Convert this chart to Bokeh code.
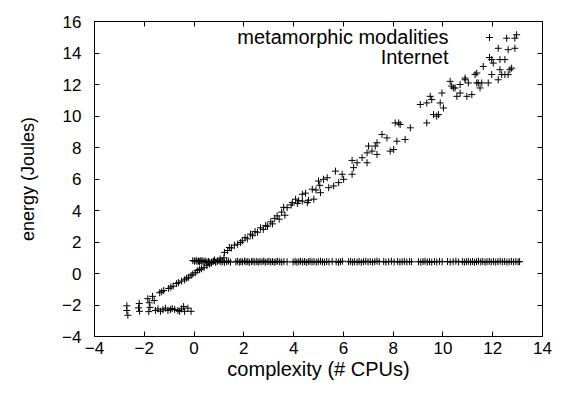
from bokeh.plotting import figure
from bokeh.models import Range1d, FixedTicker, LinearAxis, Label, Legend, LegendItem
from bokeh.embed import file_html
from bokeh.resources import INLINE

# ---- data ----
x_ticks = [-4, -2, 0, 2, 4, 6, 8, 10, 12, 14]
y_ticks = [-4, -2, 0, 2, 4, 6, 8, 10, 12, 14, 16]
series_names = ["metamorphic modalities", "Internet"]
x_title = "complexity (# CPUs)"
y_title = "energy (Joules)"

modalities_pts = [
    (-2.70, -2.05), (-2.70, -2.35), (-2.66, -2.65), (-2.20, -1.90), (-2.23, -2.18), (-2.19, -2.40),
    (-1.86, -1.60), (-1.80, -1.86), (-1.77, -2.15), (-1.82, -2.42), (-1.67, -1.45), (-1.60, -1.72),
    (-1.38, -1.22), (-1.30, -1.16), (-1.22, -1.08), (-1.02, -0.95), (-0.93, -0.86), (-0.84, -0.80),
    (-0.70, -0.64), (-0.62, -0.58), (-0.50, -0.48), (-0.38, -0.40), (-0.30, -0.30), (-0.22, -0.24),
    (-0.12, -0.12), (-0.05, -0.04), (0.05, 0.05), (0.13, 0.18), (0.22, 0.25), (0.30, 0.30),
    (0.40, 0.38), (0.52, 0.50), (0.62, 0.60), (0.70, 0.66), (0.82, 0.86), (0.95, 0.82),
    (1.05, 0.92), (1.20, 1.00), (1.22, 1.34), (1.35, 1.46), (1.42, 1.65), (1.50, 1.62),
    (1.62, 1.80), (1.75, 1.86), (1.87, 1.97), (1.94, 2.08), (2.05, 2.28), (2.14, 2.20),
    (2.27, 2.50), (2.35, 2.40), (2.45, 2.66), (2.55, 2.62), (2.67, 2.90), (2.78, 2.80),
    (2.88, 3.05), (2.95, 3.00), (3.08, 3.28), (3.15, 3.15), (3.24, 3.50), (3.34, 3.66),
    (3.42, 3.45), (3.52, 3.90), (3.60, 4.20), (3.65, 3.70), (3.74, 4.18), (3.90, 4.35),
    (3.95, 4.50), (4.08, 4.72), (4.15, 4.45), (4.20, 4.62), (4.35, 4.60), (4.55, 4.50),
    (4.35, 5.03), (4.48, 5.10), (4.60, 4.65), (4.75, 5.35), (4.81, 4.72), (4.90, 5.30),
    (5.05, 5.60), (5.08, 5.13), (5.00, 5.87), (5.20, 5.98), (5.35, 6.08), (5.41, 5.45),
    (5.61, 5.56), (5.81, 5.77), (5.68, 6.50), (5.95, 6.30), (6.01, 5.98), (6.35, 6.30),
    (6.41, 6.72), (6.35, 7.18), (6.55, 7.03), (6.75, 7.35), (6.95, 7.03), (7.01, 8.09),
    (6.95, 7.66), (7.15, 7.77), (7.35, 7.56), (7.28, 8.09), (7.35, 8.30), (7.55, 8.83),
    (7.75, 8.61), (7.88, 7.77), (8.02, 7.87), (8.15, 8.40), (8.48, 8.51), (8.22, 9.56),
    (8.08, 9.56), (8.28, 9.46), (8.69, 9.25), (9.09, 10.73), (9.35, 10.83), (9.49, 11.25),
    (9.55, 11.04), (9.89, 10.83), (9.96, 11.46), (10.02, 10.51), (9.62, 10.09), (9.75, 9.99),
    (9.82, 10.09), (9.35, 9.56), (10.29, 12.20), (10.35, 11.90), (10.49, 11.78), (10.69, 12.00),
    (10.56, 11.25), (10.96, 11.25), (11.16, 11.36), (10.89, 12.41), (11.29, 12.63), (11.36, 12.10),
    (12.56, 14.94), (12.96, 15.16), (12.89, 14.94), (12.22, 14.30), (12.62, 14.21), (12.89, 14.30),
    (11.96, 13.58), (12.02, 13.36), (12.29, 13.58), (12.49, 13.58), (11.62, 13.15), (11.96, 12.63),
    (12.29, 12.94), (12.36, 12.63), (12.49, 12.63), (12.69, 12.94), (12.76, 13.04), (12.62, 12.63),
    (11.36, 12.73), (11.42, 12.10), (11.56, 12.10), (11.82, 12.10), (12.22, 12.30), (11.49, 11.78),
    (11.02, 12.10), (10.42, 11.78), (10.69, 11.46), (10.89, 12.30),
]

internet_pts = [
    (-1.55, -2.35), (-1.45, -2.25), (-1.35, -2.40), (-1.25, -2.30), (-1.15, -2.20), (-1.05, -2.35),
    (-0.95, -2.30), (-0.88, -2.22), (-0.78, -2.28), (-0.65, -2.35), (-0.58, -2.40), (-0.50, -2.25),
    (-0.42, -2.10), (-0.38, -2.40), (-0.25, -2.20), (-0.12, -2.40),
    (-0.05, 0.82), (0.02, 0.78), (0.08, 0.84), (0.12, 0.76), (0.18, 0.80), (0.22, 0.74),
    (0.27, 0.82), (0.31, 0.77), (0.36, 0.80), (0.41, 0.74), (0.47, 0.79), (0.52, 0.72),
    (0.58, 0.76), (0.63, 0.70), (0.71, 0.74), (0.78, 0.78), (0.86, 0.72), (0.93, 0.76),
    (1.01, 0.80), (1.08, 0.73), (1.15, 0.77), (1.22, 0.71), (1.31, 0.75), (1.38, 0.79),
    (1.46, 0.72), (1.68, 0.74), (1.74, 0.78), (1.82, 0.72), (1.88, 0.76), (1.95, 0.74),
    (2.03, 0.79), (2.09, 0.73), (2.16, 0.76), (2.22, 0.71), (2.31, 0.75), (2.37, 0.78),
    (2.44, 0.73), (2.52, 0.76), (2.58, 0.72), (2.65, 0.77), (2.73, 0.74), (2.80, 0.79),
    (2.86, 0.72), (2.94, 0.75), (3.01, 0.77), (3.08, 0.73), (3.15, 0.76), (3.22, 0.71),
    (3.29, 0.75), (3.36, 0.78), (3.44, 0.74), (3.52, 0.72), (3.61, 0.76), (3.74, 0.74),
    (3.98, 0.73), (4.06, 0.77), (4.13, 0.72), (4.21, 0.75), (4.28, 0.78), (4.36, 0.73),
    (4.44, 0.76), (4.51, 0.71), (4.59, 0.75), (4.66, 0.78), (4.74, 0.73), (4.82, 0.76),
    (4.91, 0.72), (4.99, 0.75), (5.08, 0.78), (5.16, 0.74), (5.24, 0.72), (5.33, 0.76),
    (5.42, 0.73), (5.55, 0.77), (5.71, 0.74), (5.80, 0.71), (5.88, 0.75), (5.96, 0.78),
    (6.21, 0.74), (6.29, 0.77), (6.37, 0.72), (6.45, 0.75), (6.55, 0.73), (6.63, 0.77),
    (6.72, 0.71), (6.81, 0.75), (6.90, 0.78), (6.99, 0.74), (7.08, 0.76), (7.17, 0.72),
    (7.26, 0.75), (7.35, 0.79), (7.44, 0.74), (7.62, 0.76), (7.71, 0.72), (7.82, 0.75),
    (7.93, 0.78), (8.04, 0.73), (8.18, 0.76), (8.27, 0.72), (8.36, 0.75), (8.45, 0.77),
    (8.55, 0.73), (8.66, 0.76), (8.74, 0.74), (9.02, 0.75), (9.11, 0.72), (9.20, 0.76),
    (9.28, 0.78), (9.37, 0.73), (9.46, 0.75), (9.55, 0.71), (9.66, 0.76), (9.75, 0.73),
    (9.86, 0.77), (9.97, 0.74), (10.18, 0.76), (10.29, 0.72), (10.41, 0.75), (10.52, 0.78),
    (10.63, 0.73), (10.78, 0.76), (10.86, 0.72), (10.94, 0.75), (11.02, 0.77), (11.11, 0.73),
    (11.19, 0.76), (11.27, 0.71), (11.35, 0.75), (11.43, 0.78), (11.52, 0.74), (11.60, 0.76),
    (11.69, 0.72), (11.77, 0.75), (11.86, 0.77), (11.94, 0.73), (12.03, 0.76), (12.12, 0.72),
    (12.21, 0.75), (12.30, 0.78), (12.39, 0.74), (12.48, 0.76), (12.57, 0.72), (12.66, 0.75),
    (12.75, 0.77), (12.84, 0.73), (12.93, 0.76), (13.02, 0.74), (13.08, 0.75),
]

mod_x = [pt[0] for pt in modalities_pts]
mod_y = [pt[1] for pt in modalities_pts]
net_x = [pt[0] for pt in internet_pts]
net_y = [pt[1] for pt in internet_pts]

FONT = "Liberation Sans"
TICK_SIZE = "17px"
XLABEL_SIZE = "20px"
YLABEL_SIZE = "18px"
LEGEND_SIZE = "20px"

p = figure(width=566, height=399, x_range=Range1d(-4, 14), y_range=Range1d(-4, 16),
           output_backend="svg", toolbar_location=None, x_axis_location=None, y_axis_location=None,
           min_border_left=94, min_border_right=24, min_border_top=21, min_border_bottom=63)
p.grid.visible = False
p.outline_line_color = "black"
p.outline_line_width = 1
p.background_fill_color = "white"
p.border_fill_color = "white"


def make_axis(ticks, label=None, label_size=None, show_labels=True):
    ax = LinearAxis(ticker=FixedTicker(ticks=ticks))
    ax.major_tick_in = 5
    ax.major_tick_out = 0
    ax.minor_tick_in = 0
    ax.minor_tick_out = 0
    ax.axis_line_color = "black"
    ax.major_tick_line_color = "black"
    ax.major_label_text_font = FONT
    ax.major_label_text_font_size = TICK_SIZE
    ax.major_label_text_color = "black"
    if not show_labels:
        ax.major_label_overrides = {t: "" for t in ticks}
        ax.major_label_standoff = 0
    if label:
        ax.axis_label = label
        ax.axis_label_text_font = FONT
        ax.axis_label_text_font_size = label_size
        ax.axis_label_text_font_style = "normal"
        ax.axis_label_text_color = "black"
    return ax


xb = make_axis(x_ticks, x_title, XLABEL_SIZE)
xb.major_label_standoff = 5
xb.axis_label_standoff = 1
yl = make_axis(y_ticks, y_title, YLABEL_SIZE)
yl.major_label_standoff = 13
yl.axis_label_standoff = 21
xt = make_axis(x_ticks, show_labels=False)
yr = make_axis(y_ticks, show_labels=False)
p.add_layout(xb, "below")
p.add_layout(yl, "left")
p.add_layout(xt, "above")
p.add_layout(yr, "right")

r1 = p.scatter(mod_x, mod_y, marker="cross", size=7, line_color="black", line_width=1)
r2 = p.scatter(net_x, net_y, marker="cross", size=7, line_color="black", line_width=1)

# legend: text right-aligned, sample marker to the right (gnuplot style)
p.add_layout(Label(x=354, y=300, x_units="screen", y_units="screen", text=series_names[0],
                   text_align="right", text_baseline="middle", text_font=FONT,
                   text_font_size=LEGEND_SIZE, text_color="black"))
p.add_layout(Label(x=354, y=280, x_units="screen", y_units="screen", text=series_names[1],
                   text_align="right", text_baseline="middle", text_font=FONT,
                   text_font_size=LEGEND_SIZE, text_color="black"))
leg = Legend(items=[LegendItem(label=" ", renderers=[r1]), LegendItem(label=" ", renderers=[r2])],
             location=(386, 269), padding=0, margin=0, spacing=0, glyph_width=18, glyph_height=20,
             label_height=20, label_width=0, label_standoff=0, border_line_color=None,
             background_fill_alpha=0, label_text_font_size="1px")
p.add_layout(leg)

open("out.html", "w").write(file_html(p, INLINE))
